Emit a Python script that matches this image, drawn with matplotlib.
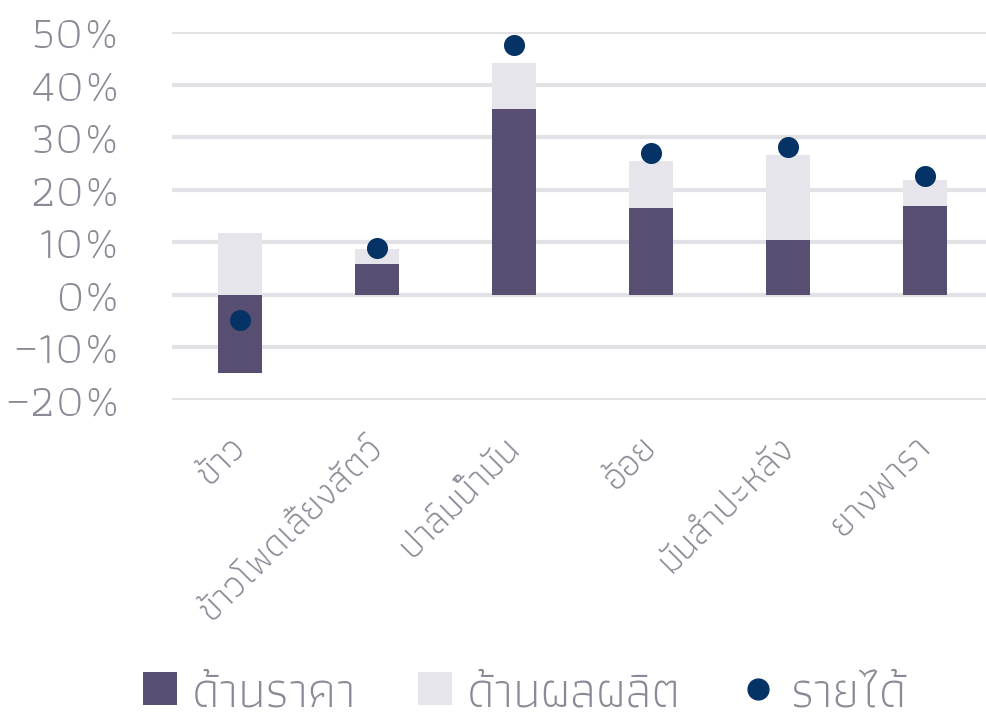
import matplotlib
matplotlib.use("Agg")
import matplotlib.pyplot as plt
from matplotlib.patches import Patch
from matplotlib.lines import Line2D

plt.rcParams["font.family"] = ["Athiti", "DejaVu Sans"]
plt.rcParams["font.weight"] = 300

categories = ["ข้าว", "ข้าวโพดเลี้ยงสัตว์", "ปาล์มน้ำมัน", "อ้อย", "มันสำปะหลัง", "ยางพารา"]
price_effect = [-14.9, 5.9, 35.4, 16.6, 10.5, 16.9]
output_effect = [11.8, 2.9, 8.8, 8.9, 16.2, 5.0]
income = [-4.8, 9.0, 47.6, 27.0, 28.2, 22.7]
yticks = [-20, -10, 0, 10, 20, 30, 40, 50]

dark = "#584e72"
light = "#e6e5eb"
navy = "#063365"
grey = "#8a8a96"

fig = plt.figure(figsize=(9.87, 7.15), dpi=100)
ax = fig.add_axes([0.174, 0.4406, 0.826, 0.5144])

x = list(range(len(categories)))
# production part sits on top of the price part when price is positive, else starts at 0
base = [p if p > 0 else 0 for p in price_effect]
ax.bar(x, price_effect, width=0.32, color=dark, zorder=2)
ax.bar(x, output_effect, bottom=base, width=0.32, color=light, zorder=2)
ax.scatter(x, income, s=230, color=navy, zorder=3, linewidths=0)

ax.set_xlim(-0.5, 5.45)
ax.set_ylim(-20, 50)
ax.set_yticks(yticks)
ax.set_yticklabels([f"{v}%".replace("-", "\u2212") for v in yticks])
ax.set_xticks(x)
ax.set_xticklabels(categories, rotation=45, ha="right", va="center", rotation_mode="anchor")
ax.tick_params(axis="y", length=0, labelsize=33, labelcolor=grey, pad=37)
ax.tick_params(axis="x", length=0, labelsize=28, labelcolor=grey, pad=30)
ax.grid(axis="y", color="#e2e1e6", linewidth=3, zorder=0)
for s in ax.spines.values():
    s.set_visible(False)

entries = [
    (Patch(facecolor=dark), "ด้านราคา", 143),
    (Patch(facecolor=light), "ด้านผลผลิต", 418),
    (Line2D([], [], marker="o", color=navy, linestyle="none", markersize=15), "รายได้", 741),
]
for h, lab, px in entries:
    fig.legend([h], [lab], loc="center left", bbox_to_anchor=(px / 987, 0.03),
               frameon=False, fontsize=36, labelcolor=grey, handlelength=0.68,
               handleheight=0.64, handletextpad=0.3, borderpad=0, borderaxespad=0)

fig.savefig("out.png", dpi=100)
